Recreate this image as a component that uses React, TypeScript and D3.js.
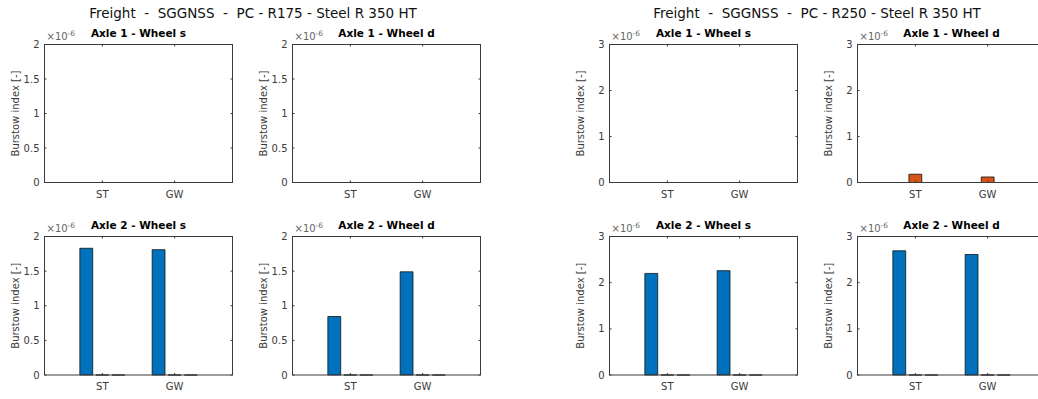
import React from "react";
import * as d3 from "d3";

// ---------- data ----------
const categories = ["ST", "GW"];
const seriesNames = ["Series 1", "Series 2", "Series 3"];
const figureTitles = [
  "Freight  -  SGGNSS  -  PC - R175 - Steel R 350 HT",
  "Freight  -  SGGNSS  -  PC - R250 - Steel R 350 HT",
];
const panelTitles = ["Axle 1 - Wheel s", "Axle 1 - Wheel d", "Axle 2 - Wheel s", "Axle 2 - Wheel d"];
const yTicksR175 = [0, 0.5e-6, 1e-6, 1.5e-6, 2e-6];
const yTicksR250 = [0, 1e-6, 2e-6, 3e-6];
const yMaxR175 = 2e-6;
const yMaxR250 = 3e-6;

// values [series][category]
const r175Axle1WheelS = [[0, 0], [0, 0], [0, 0]];
const r175Axle1WheelD = [[0, 0], [0, 0], [0, 0]];
const r175Axle2WheelS = [[1.83e-6, 1.81e-6], [0, 0], [0, 0]];
const r175Axle2WheelD = [[0.845e-6, 1.49e-6], [0, 0], [0, 0]];
const r250Axle1WheelS = [[0, 0], [0, 0], [0, 0]];
const r250Axle1WheelD = [[0, 0], [0.18e-6, 0.12e-6], [0, 0]];
const r250Axle2WheelS = [[2.2e-6, 2.26e-6], [0, 0], [0, 0]];
const r250Axle2WheelD = [[2.69e-6, 2.61e-6], [0, 0], [0, 0]];

// ---------- style / layout ----------
const colors = ["#0072BD", "#D95319", "#EDB120"];
const AX = "#3a3a3a";
const FONT = "DejaVu Sans, sans-serif";
const PW = 188;
const colLeft = [44.5, 292.5, 609.5, 857.5];
const rowTop = [44.5, 236.5];
const rowBottom = [182.5, 375];
const titleX = [253, 817];

type PanelProps = {
  left: number; top: number; bottom: number; title: string;
  data: number[][]; yMax: number; yTicks: number[];
};

function Panel({ left, top, bottom, title, data, yMax, yTicks }: PanelProps) {
  const x = d3.scaleLinear().domain([0.2, 2.8]).range([left, left + PW]);
  const y = d3.scaleLinear().domain([0, yMax]).range([bottom, top]);
  const n = seriesNames.length;
  const groupWidth = Math.min(0.8, n / (n + 1.5));
  const barW = (groupWidth / n) * 0.8;
  const tickLen = 2;
  const fmt = (v: number) => d3.format("~g")(+(v / 1e-6).toFixed(4));
  const bars: React.ReactNode[] = [];
  data.forEach((vals, s) => {
    vals.forEach((v, c) => {
      const center = c + 1 + (s - (n - 1) / 2) * (groupWidth / n);
      const x0 = x(center - barW / 2);
      const x1 = x(center + barW / 2);
      const y0 = y(0);
      const y1 = y(v);
      bars.push(
        <path
          key={`b${s}-${c}`}
          d={`M${x0},${y0}V${y1}H${x1}V${y0}Z`}
          fill={colors[s]}
          stroke="#111"
          strokeWidth={0.8}
        />
      );
    });
  });
  return (
    <g>
      <rect x={left} y={top} width={PW} height={bottom - top} fill="white" />
      {bars}
      <rect x={left} y={top} width={PW} height={bottom - top} fill="none" stroke={AX} strokeWidth={1} />
      {yTicks.map((t) => (
        <g key={`yt${t}`}>
          <line x1={left} x2={left + tickLen} y1={y(t)} y2={y(t)} stroke={AX} />
          <line x1={left + PW} x2={left + PW - tickLen} y1={y(t)} y2={y(t)} stroke={AX} />
          <text x={left - 5} y={y(t)} dy="0.35em" textAnchor="end" fontSize={10} fill={AX} fontFamily={FONT}>
            {fmt(t)}
          </text>
        </g>
      ))}
      {categories.map((c, i) => (
        <g key={`xt${c}`}>
          <line x1={x(i + 1)} x2={x(i + 1)} y1={bottom} y2={bottom - tickLen} stroke={AX} />
          <line x1={x(i + 1)} x2={x(i + 1)} y1={top} y2={top + tickLen} stroke={AX} />
          <text x={x(i + 1)} y={bottom + 15} textAnchor="middle" fontSize={10} fill={AX} fontFamily={FONT}>
            {c}
          </text>
        </g>
      ))}
      <text x={left + 2} y={top - 5} fontSize={10} fill="#666" fontFamily={FONT}>
        ×10<tspan dy={-4} fontSize={7.5}>-6</tspan>
      </text>
      <text x={left + PW / 2} y={top - 8} textAnchor="middle" fontSize={10.5} fontWeight="bold" fill="#000" fontFamily={FONT}>
        {title}
      </text>
      <text
        transform={`translate(${left - 26},${(top + bottom) / 2}) rotate(-90)`}
        textAnchor="middle"
        fontSize={10}
        fill={AX}
        fontFamily={FONT}
      >
        Burstow index [-]
      </text>
    </g>
  );
}

export default function App() {
  const panels = [
    { col: 0, row: 0, data: r175Axle1WheelS, t: 0, yMax: yMaxR175, yTicks: yTicksR175 },
    { col: 1, row: 0, data: r175Axle1WheelD, t: 1, yMax: yMaxR175, yTicks: yTicksR175 },
    { col: 0, row: 1, data: r175Axle2WheelS, t: 2, yMax: yMaxR175, yTicks: yTicksR175 },
    { col: 1, row: 1, data: r175Axle2WheelD, t: 3, yMax: yMaxR175, yTicks: yTicksR175 },
    { col: 2, row: 0, data: r250Axle1WheelS, t: 0, yMax: yMaxR250, yTicks: yTicksR250 },
    { col: 3, row: 0, data: r250Axle1WheelD, t: 1, yMax: yMaxR250, yTicks: yTicksR250 },
    { col: 2, row: 1, data: r250Axle2WheelS, t: 2, yMax: yMaxR250, yTicks: yTicksR250 },
    { col: 3, row: 1, data: r250Axle2WheelD, t: 3, yMax: yMaxR250, yTicks: yTicksR250 },
  ];
  return (
    <svg
      width={1038}
      height={399}
      style={{ position: "absolute", left: 0, top: 0, background: "white", display: "block" }}
    >
      <rect width={1038} height={399} fill="white" />
      {figureTitles.map((t, i) => (
        <text
          key={t}
          x={titleX[i]}
          y={18}
          textAnchor="middle"
          fontSize={13.5}
          fill="#111"
          fontFamily={FONT}
          style={{ whiteSpace: "pre" }}
        >
          {t}
        </text>
      ))}
      {panels.map((p, i) => (
        <Panel
          key={i}
          left={colLeft[p.col]}
          top={rowTop[p.row]}
          bottom={rowBottom[p.row]}
          title={panelTitles[p.t]}
          data={p.data}
          yMax={p.yMax}
          yTicks={p.yTicks}
        />
      ))}
    </svg>
  );
}
